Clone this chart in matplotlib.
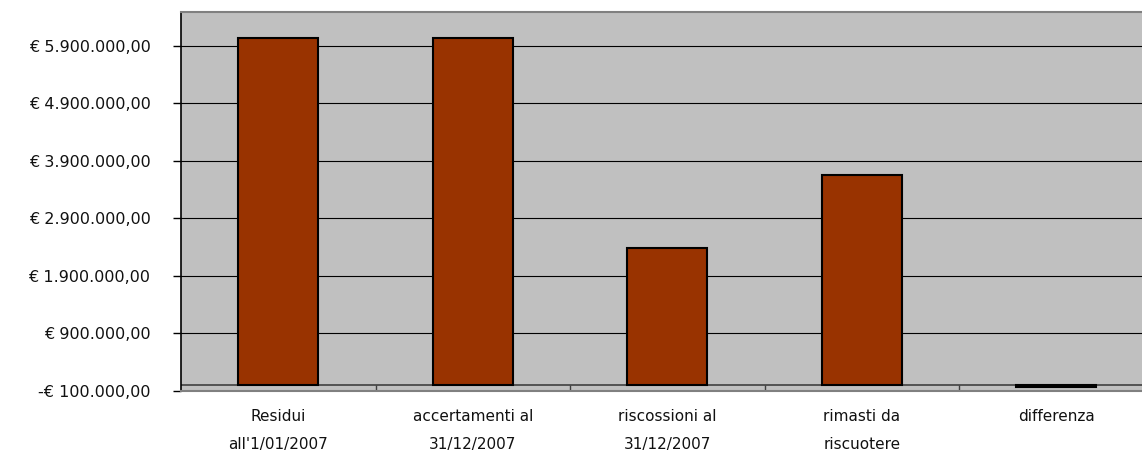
import matplotlib
matplotlib.use("Agg")
import matplotlib.pyplot as plt
from matplotlib.ticker import FixedLocator, FuncFormatter

categories = ["Residui\nall'1/01/2007", "accertamenti al\n31/12/2007",
              "riscossioni al\n31/12/2007", "rimasti da\nriscuotere", "differenza"]
values = [6040000, 6040000, 2390000, 3650000, -30000]
yticks = [-100000, 900000, 1900000, 2900000, 3900000, 4900000, 5900000]

plt.rcParams['font.family'] = ['DejaVu Sans']

W, H = 1142, 453
fig = plt.figure(figsize=(W / 100, H / 100), dpi=100)
fig.patch.set_facecolor('white')
ax = fig.add_axes([181 / W, (H - 391) / H, 972.5 / W, (391 - 12) / H])
ax.set_facecolor('#C0C0C0')

x = list(range(len(categories)))
ax.bar(x, values, width=0.41, color='#993300', edgecolor='black', linewidth=1.5, zorder=3)

ax.set_xlim(-0.5, len(categories) - 0.5)
ax.set_ylim(-100000, 6490000)

ax.yaxis.set_major_locator(FixedLocator(yticks))


def euro(v, pos=None):
    s = f"{abs(v):,.2f}".replace(",", "X").replace(".", ",").replace("X", ".")
    return ("-€ " if v < 0 else "€ ") + s


ax.yaxis.set_major_formatter(FuncFormatter(euro))
ax.grid(axis='y', color='black', linewidth=0.8, zorder=1)
ax.tick_params(axis='y', direction='out', length=6, width=1, color='black',
               labelsize=11.5, labelcolor='#111111', pad=16)

ax.set_xticks(x)
ax.set_xticklabels(categories, fontsize=11, color='#111111', linespacing=2.05)
ax.tick_params(axis='x', length=0, pad=13)

# category axis at zero with separators
ax.axhline(0, color='#404040', linewidth=1.2, zorder=2)
ax.vlines([i + 0.5 for i in range(len(categories) - 1)], -100000, 0,
          color='#404040', linewidth=1, zorder=2)

ax.spines['right'].set_visible(False)
ax.spines['left'].set_color('black')
ax.spines['left'].set_linewidth(1.2)
ax.spines['top'].set_color('#808080')
ax.spines['top'].set_linewidth(1.5)
ax.spines['bottom'].set_color('#808080')
ax.spines['bottom'].set_linewidth(1.5)

fig.savefig('out.png', dpi=100)
